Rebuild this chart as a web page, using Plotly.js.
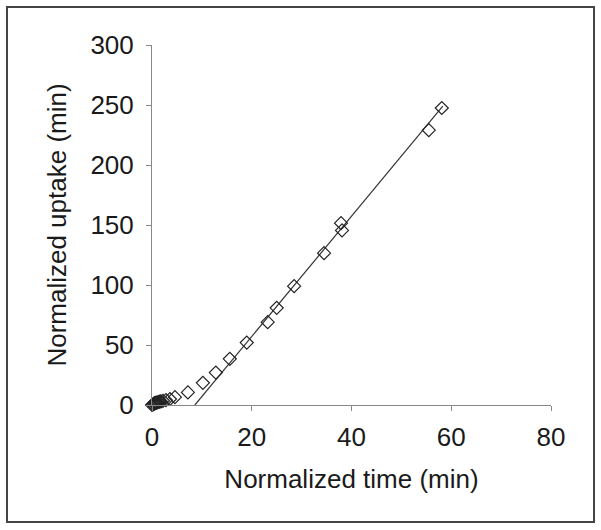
<!DOCTYPE html>
<html>
<head>
<meta charset="utf-8">
<script src="https://cdn.plot.ly/plotly-3.0.1.min.js"></script>
<style>html,body{margin:0;padding:0;background:#fff;}#chart{width:601px;height:530px;}</style>
</head>
<body>
<div id="chart"></div>
<script>
// Measured points: normalized time (min) vs normalized uptake (min)
const timeValues = [0, 0.2, 0.4, 0.5, 0.7, 0.8, 1.0, 1.2, 1.4, 1.6, 1.8, 2.2, 2.8, 3.6, 4.6, 7.2, 10.2, 12.8, 15.6, 19.0, 23.2, 25.0, 28.5, 34.5, 37.9, 38.1, 55.5, 58.1];
const uptakeValues = [0, 0.5, 1.0, 1.5, 1.5, 2.0, 2.0, 2.5, 2.5, 3.0, 3.0, 3.5, 4.0, 5.0, 6.5, 10.5, 18.5, 27.0, 38.5, 52.0, 69.0, 81.0, 99.0, 126.5, 151.5, 145.5, 229.0, 247.5];
// Linear fit line endpoints
const fitX = [8.6, 58.3];
const fitY = [0, 249];
const xTicks = [0, 20, 40, 60, 80];
const yTicks = [0, 50, 100, 150, 200, 250, 300];

const font = {family: '"Liberation Sans", Arial, sans-serif', size: 26, color: '#1a1a1a'};
const titleFont = {family: '"Liberation Sans", Arial, sans-serif', size: 26, color: '#1a1a1a'};

const traces = [
  {x: fitX, y: fitY, mode: 'lines', line: {color: '#333', width: 1.2}, hoverinfo: 'skip', showlegend: false},
  {x: timeValues, y: uptakeValues, mode: 'markers', cliponaxis: false,
   marker: {symbol: 'diamond-open', size: 10, color: '#222', line: {width: 1.2, color: '#222'}}, showlegend: false}
];

const layout = {
  width: 601, height: 530,
  margin: {l: 152, r: 50, t: 45, b: 125},
  paper_bgcolor: '#fff', plot_bgcolor: '#fff',
  font: font,
  showlegend: false,
  xaxis: {
    range: [0, 80], tickvals: xTicks, ticktext: xTicks.map(String),
    showgrid: false, zeroline: false, showline: true, linecolor: '#888', linewidth: 1,
    ticks: 'outside', ticklen: 5, tickcolor: '#888', tickfont: font, ticklabelstandoff: 4,
    title: {text: 'Normalized time (min)', font: titleFont, standoff: 18}
  },
  yaxis: {
    range: [0, 300], tickvals: yTicks, ticktext: yTicks.map(String),
    showgrid: false, zeroline: false, showline: true, linecolor: '#888', linewidth: 1,
    ticks: 'outside', ticklen: 5, tickcolor: '#888', tickfont: font, ticklabelstandoff: 7,
    title: {text: 'Normalized uptake (min)', font: titleFont, standoff: 16}
  },
  shapes: [
    {type: 'rect', xref: 'paper', yref: 'paper', x0: -0.3634, x1: 1.1078, y0: -0.325, y1: 1.1056,
     line: {color: '#444', width: 2}, fillcolor: 'rgba(0,0,0,0)', layer: 'below'}
  ]
};

Plotly.newPlot('chart', traces, layout, {displayModeBar: false, staticPlot: true});
</script>
</body>
</html>
